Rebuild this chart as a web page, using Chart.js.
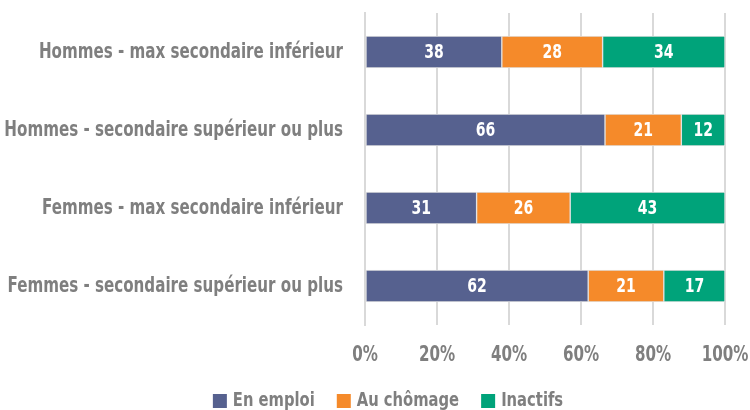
<!DOCTYPE html>
<html>
<head>
<meta charset="utf-8">
<script src="https://cdn.jsdelivr.net/npm/chart.js@4"></script>
<style>
  html, body { margin: 0; padding: 0; background: #fff; }
  #wrap { width: 750px; height: 410px; }
</style>
</head>
<body>
<div id="wrap"><canvas id="c"></canvas></div>
<script>
var categories = [
  'Hommes - max secondaire inférieur',
  'Hommes - secondaire supérieur ou plus',
  'Femmes - max secondaire inférieur',
  'Femmes - secondaire supérieur ou plus'
];
var enEmploi = [38, 66, 31, 62];
var auChomage = [28, 21, 26, 21];
var inactifs = [34, 12, 43, 17];
var xTicks = ['0%', '20%', '40%', '60%', '80%', '100%'];

var FONT = "'DejaVu Sans Condensed', 'DejaVu Sans', sans-serif";
var GREY = '#7f7f7f';
var SX = 0.82; // squeeze text horizontally, the original face is narrow

// 100 % stacked: each bar is scaled to its own total
function share(arr) {
  return arr.map(function (v, i) {
    var tot = enEmploi[i] + auChomage[i] + inactifs[i];
    return v / tot * 100;
  });
}

function narrowText(ctx, str, x, y, align) {
  ctx.save();
  ctx.translate(x, y);
  ctx.scale(SX, 1);
  ctx.textAlign = align;
  ctx.fillText(str, 0, 0);
  ctx.restore();
}

function textW(ctx, str) { return ctx.measureText(str).width * SX; }

var narrowLabels = {
  id: 'narrowLabels',
  afterDatasetsDraw: function (chart) {
    var ctx = chart.ctx;
    var xs = chart.scales.x, ys = chart.scales.y;
    ctx.save();
    ctx.textBaseline = 'middle';

    // values in the bars
    ctx.font = 'bold 19px ' + FONT;
    ctx.fillStyle = '#ffffff';
    chart.data.datasets.forEach(function (ds, di) {
      chart.getDatasetMeta(di).data.forEach(function (bar, i) {
        narrowText(ctx, String(ds.raw[i]), (bar.x + bar.base) / 2, bar.y + 1, 'center');
      });
    });

    // category labels
    ctx.font = 'bold 20.5px ' + FONT;
    ctx.fillStyle = GREY;
    categories.forEach(function (c, i) {
      narrowText(ctx, c, ys.right - 22, ys.getPixelForTick(i) + 1, 'right');
    });

    // x tick labels
    xs.ticks.forEach(function (t, i) {
      narrowText(ctx, xTicks[i], xs.getPixelForTick(i), xs.top + 31, 'center');
    });

    // legend
    ctx.font = 'bold 20px ' + FONT;
    var items = chart.data.datasets.map(function (ds) {
      return { label: ds.label, color: ds.backgroundColor, w: 14 + 6 + textW(ctx, ds.label) };
    });
    var gap = 22;
    var total = items.reduce(function (s, it) { return s + it.w; }, 0) + gap * (items.length - 1);
    var x = 388 - total / 2, ly = 400;
    items.forEach(function (it) {
      ctx.fillStyle = it.color;
      ctx.fillRect(x, ly - 6, 14, 14);
      ctx.fillStyle = GREY;
      narrowText(ctx, it.label, x + 20, ly + 1, 'left');
      x += it.w + gap;
    });
    ctx.restore();
  }
};

new Chart(document.getElementById('c'), {
  type: 'bar',
  data: {
    labels: categories,
    datasets: [
      { label: 'En emploi', raw: enEmploi, data: share(enEmploi), backgroundColor: '#56618f' },
      { label: 'Au chômage', raw: auChomage, data: share(auChomage), backgroundColor: '#f58a2a' },
      { label: 'Inactifs', raw: inactifs, data: share(inactifs), backgroundColor: '#00a37a' }
    ].map(function (d) {
      d.borderColor = '#e2e2e2';
      d.borderWidth = 1;
      d.borderSkipped = false;
      d.barThickness = 32;
      return d;
    })
  },
  options: {
    indexAxis: 'y',
    responsive: true,
    maintainAspectRatio: false,
    animation: false,
    layout: { padding: { top: 13, right: 25, bottom: 0, left: 0 } },
    plugins: {
      tooltip: { enabled: false },
      legend: { display: false }
    },
    scales: {
      x: {
        stacked: true, min: 0, max: 100,
        grid: { color: '#d9d9d9', lineWidth: 2, drawTicks: false },
        border: { display: false },
        ticks: { stepSize: 20, display: false },
        afterFit: function (s) { s.height = 85; }
      },
      y: {
        stacked: true,
        grid: { display: false, drawTicks: false },
        border: { color: '#d9d9d9', width: 2 },
        ticks: { display: false },
        afterFit: function (s) { s.width = 365; }
      }
    }
  },
  plugins: [narrowLabels]
});
</script>
</body>
</html>
